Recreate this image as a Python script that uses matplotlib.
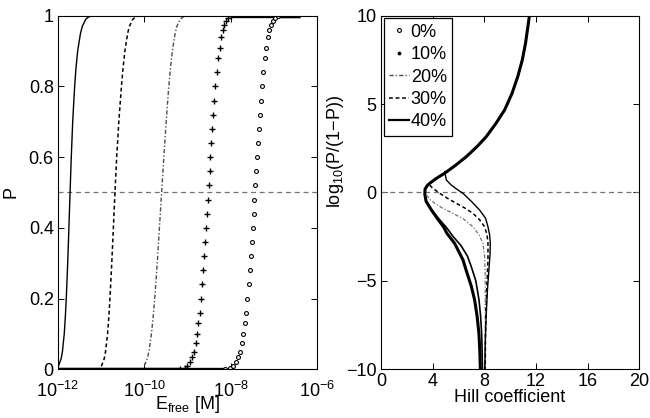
import numpy as np
import matplotlib
matplotlib.use("Agg")
import matplotlib.pyplot as plt
from matplotlib.lines import Line2D

plt.rcParams['font.family'] = ['Liberation Sans', 'DejaVu Sans']
plt.rcParams['mathtext.fontset'] = 'custom'
plt.rcParams['mathtext.rm'] = 'Liberation Sans'
plt.rcParams['mathtext.it'] = 'Liberation Sans'
plt.rcParams['axes.unicode_minus'] = True

# ---- left panel: P vs log10(E_free) ----
# 0% (circles) and 10% (plus) rising parts, sampled at these P levels
p_rise = [0.001, 0.005, 0.01, 0.02, 0.035, 0.05, 0.075, 0.1, 0.13, 0.16, 0.2, 0.24,
          0.28, 0.32, 0.36, 0.4, 0.44, 0.48, 0.52, 0.56, 0.6, 0.64, 0.68, 0.72, 0.76,
          0.8, 0.84, 0.88, 0.91, 0.94, 0.96, 0.975, 0.985, 0.993, 0.998]
loge_0 = [-8.138, -8.006, -7.944, -7.879, -7.823, -7.785, -7.739, -7.705, -7.671,
          -7.643, -7.611, -7.583, -7.558, -7.535, -7.513, -7.492, -7.471, -7.450,
          -7.430, -7.409, -7.388, -7.367, -7.345, -7.322, -7.299, -7.273, -7.243,
          -7.209, -7.178, -7.139, -7.104, -7.067, -7.030, -6.980, -6.904]
loge_10 = [-9.179, -9.059, -9.003, -8.943, -8.891, -8.855, -8.812, -8.779, -8.747,
           -8.720, -8.689, -8.661, -8.637, -8.614, -8.593, -8.571, -8.551, -8.530,
           -8.510, -8.489, -8.468, -8.447, -8.425, -8.402, -8.379, -8.353, -8.323,
           -8.289, -8.258, -8.219, -8.184, -8.147, -8.110, -8.060, -7.984]
# flat parts (P = 0 below, P = 1 above)
flat_lo_0 = [-12.0, -8.14]
flat_hi_0 = [-6.93, -6.4]
flat_lo_10 = [-12.0, -9.18]
flat_hi_10 = [-8.0, -6.4]

# 20%, 30%, 40% drawn as lines
loge_20 = [-10.0, -9.932, -9.894, -9.835, -9.794, -9.759, -9.701, -9.65, -9.6, -9.548,
           -9.494, -9.433, -9.396, -9.35, -9.287, -9.246, -9.167, -9.092, -8.993, -8.8, -6.4]
p_20 = [0.01, 0.03, 0.05, 0.1, 0.15, 0.2, 0.3, 0.4, 0.5, 0.6, 0.7, 0.8, 0.85, 0.9, 0.95,
        0.97, 0.99, 0.997, 0.9995, 1.0, 1.0]
loge_30 = [-11.0, -10.991, -10.929, -10.898, -10.852, -10.821, -10.796, -10.754, -10.717,
           -10.68, -10.64, -10.591, -10.53, -10.494, -10.45, -10.386, -10.345, -10.266,
           -10.191, -10.093, -9.9, -6.4]
p_30 = [0.009, 0.01, 0.03, 0.05, 0.1, 0.15, 0.2, 0.3, 0.4, 0.5, 0.6, 0.7, 0.8, 0.85,
        0.9, 0.95, 0.97, 0.99, 0.997, 0.9995, 1.0, 1.0]
loge_40 = [-12.0, -11.986, -11.926, -11.897, -11.855, -11.829, -11.808, -11.775, -11.747,
           -11.72, -11.692, -11.659, -11.614, -11.584, -11.544, -11.479, -11.436, -11.356,
           -11.283, -11.188, -11.05, -6.4]
p_40 = [0.008, 0.01, 0.03, 0.05, 0.1, 0.15, 0.2, 0.3, 0.4, 0.5, 0.6, 0.7, 0.8, 0.85,
        0.9, 0.95, 0.97, 0.99, 0.997, 0.9995, 1.0, 1.0]

# ---- right panel: log10(P/(1-P)) vs Hill coefficient ----
upper_hill = [11.5, 11.2, 10.95, 10.6, 10.15, 9.58, 8.9, 8.16, 7.45, 6.62, 5.8, 4.94,
              4.3, 3.78, 3.6, 3.42, 3.4]
upper_logit = [10.0, 8.45, 7.5, 6.56, 5.6, 4.67, 3.9, 3.16, 2.6, 2.03, 1.55, 1.09,
               0.8, 0.52, 0.4, 0.2, -0.1]
hill_0 = upper_hill + [3.5, 3.91, 4.4, 4.9, 5.1, 5.71, 6.36, 6.6, 7.0, 7.26, 7.45, 7.59, 7.66, 7.7]
logit_0 = upper_logit + [-0.5, -0.99, -1.5, -2.0, -2.3, -2.88, -3.82, -4.4, -5.3, -6.09, -7.0, -7.98, -9.0, -10.0]
hill_10 = upper_hill + [3.52, 3.95, 4.5, 5.1, 5.6, 6.2, 6.7, 7.0, 7.35, 7.6, 7.72, 7.8, 7.84, 7.86]
logit_10 = upper_logit + [-0.5, -1.0, -1.5, -2.0, -2.5, -3.0, -3.6, -4.2, -5.0, -6.1, -7.0, -8.0, -9.0, -10.0]
hill_20 = [3.53, 3.8, 4.17, 4.8, 5.58, 6.4, 7.13, 7.6, 7.9, 8.03, 8.07, 8.08, 8.07, 8.05]
logit_20 = [-0.14, -0.4, -0.61, -0.9, -1.18, -1.5, -1.94, -2.4, -2.88, -3.63, -4.5, -6.0, -8.0, -10.0]
hill_30 = [3.78, 4.0, 4.56, 5.2, 5.84, 6.5, 7.13, 7.65, 8.03, 8.22, 8.29, 8.29, 8.22, 8.15, 8.1, 8.08]
logit_30 = [0.42, 0.25, -0.05, -0.35, -0.61, -0.88, -1.18, -1.55, -1.94, -2.4, -2.88, -3.82, -5.0, -6.5, -8.0, -10.0]
hill_40 = [4.94, 5.0, 5.07, 5.4, 5.85, 6.36, 7.0, 7.64, 8.1, 8.29, 8.42, 8.47, 8.45, 8.35, 8.25, 8.15, 8.08, 8.05]
logit_40 = [1.18, 0.95, 0.71, 0.45, 0.2, -0.05, -0.5, -0.99, -1.45, -1.94, -2.4, -2.88, -3.5, -4.5, -5.5, -7.0, -8.5, -10.0]

labels = ['0%', '10%', '20%', '30%', '40%']

fig = plt.figure(figsize=(6.5, 4.18), dpi=100)
ax1 = fig.add_axes([0.0892, 0.1165, 0.3985, 0.846])
ax2 = fig.add_axes([0.586, 0.1165, 0.3974, 0.846])

e = lambda v: np.power(10.0, np.asarray(v))

# left panel
ax1.axhline(0.5, color='0.45', ls=(0, (4, 3)), lw=0.9)
for lo, hi in [(flat_lo_0, flat_hi_0), (flat_lo_10, flat_hi_10)]:
    ax1.plot(e(lo), [0, 0], color='k', lw=2.4, solid_capstyle='butt')
    ax1.plot(e(hi), [1, 1], color='k', lw=2.4, solid_capstyle='butt')
ax1.plot(e(loge_0), p_rise, ls='none', marker='o', ms=2.8, mfc='white', mec='k', mew=0.8)
ax1.plot(e(loge_10), p_rise, ls='none', marker='+', ms=3.8, color='k', mew=1.0)
ax1.plot(e(loge_20), p_20, color='0.3', lw=1.0, ls=(0, (3, 1.5, 1, 1.5)))
ax1.plot(e(loge_30), p_30, color='k', lw=1.1, ls=(0, (2.5, 1.8)))
ax1.plot(e(loge_40), p_40, color='k', lw=1.0)
ax1.set_xscale('log')
ax1.set_xlim(1e-12, 1e-6)
ax1.set_ylim(0, 1)
ax1.set_xticks([1e-12, 1e-10, 1e-8, 1e-6])
ax1.set_xticklabels([r'$10^{-12}$', r'$10^{-10}$', r'$10^{-8}$', r'$10^{-6}$'])
ax1.minorticks_off()
ax1.set_yticks([0, 0.2, 0.4, 0.6, 0.8, 1])
ax1.set_yticklabels(['0', '0.2', '0.4', '0.6', '0.8', '1'])
ax1.set_xlabel(r'E$_{\mathrm{free}}$ [M]', fontsize=13, labelpad=-5)
ax1.set_ylabel('P', fontsize=13)
ax1.yaxis.set_label_coords(-0.15, 0.5)

# right panel
ax2.axhline(0, color='0.45', ls=(0, (4, 3)), lw=0.9)
ax2.plot(hill_0, logit_0, color='k', lw=2.2)
ax2.plot(hill_10, logit_10, color='k', lw=1.2)
ax2.plot(hill_20, logit_20, color='0.45', lw=0.9, ls=(0, (3, 1.5, 1, 1.5)))
ax2.plot(hill_30, logit_30, color='k', lw=1.1, ls=(0, (2.5, 1.8)))
ax2.plot(hill_40, logit_40, color='k', lw=1.0)
ax2.set_xlim(0, 20)
ax2.set_ylim(-10, 10)
ax2.set_xticks([0, 4, 8, 12, 16, 20])
ax2.set_yticks([-10, -5, 0, 5, 10])
ax2.set_xlabel('Hill coefficient', fontsize=13, labelpad=-1)
ax2.set_ylabel(r'log$_{10}$(P/(1−P))', fontsize=13)
ax2.yaxis.set_label_coords(-0.135, 0.615)

handles = [
    Line2D([], [], ls='none', marker='o', ms=2.8, mfc='white', mec='k', mew=0.8),
    Line2D([], [], ls='none', marker='.', ms=3.5, color='k'),
    Line2D([], [], color='0.3', lw=1.0, ls=(0, (3, 1.5, 1, 1.5))),
    Line2D([], [], color='k', lw=1.1, ls=(0, (2.5, 1.8))),
    Line2D([], [], color='k', lw=1.6),
]
leg = ax2.legend(handles, labels, loc='upper left', fontsize=13, handlelength=1.1,
                 handletextpad=0.1, borderpad=0.3, labelspacing=0.3,
                 borderaxespad=0.15, fancybox=False, framealpha=1)
leg.get_frame().set_edgecolor('k')
leg.get_frame().set_linewidth(0.9)

for ax in (ax1, ax2):
    ax.tick_params(direction='in', top=True, right=True, length=4, width=0.7,
                   labelsize=13, pad=3)
    for s in ax.spines.values():
        s.set_linewidth(0.8)
ax1.tick_params(axis='x', pad=8)

fig.savefig('out.png', dpi=100)
